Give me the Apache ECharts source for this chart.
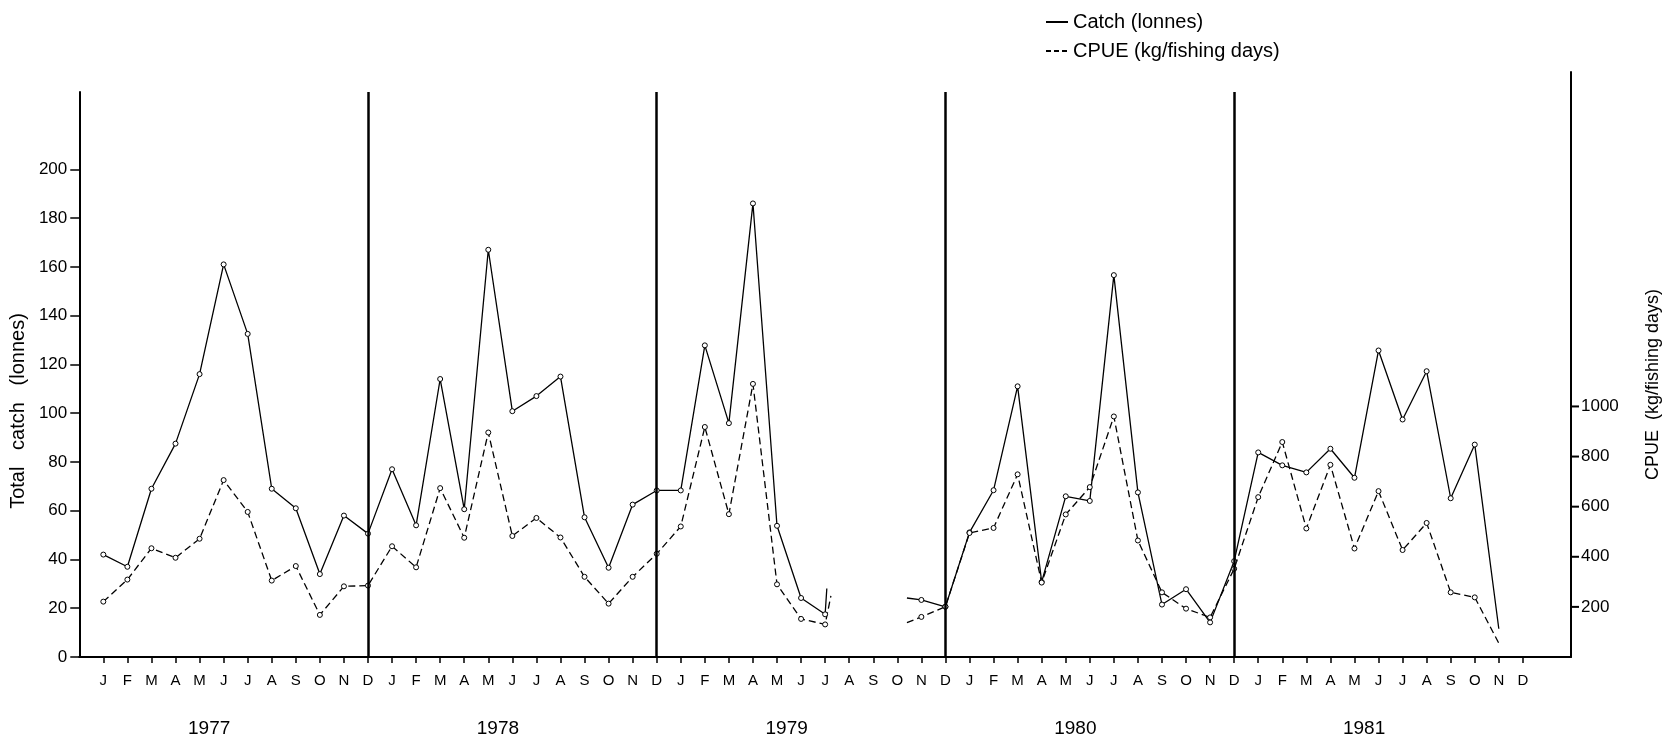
<!DOCTYPE html>
<html>
<head>
  <meta charset="utf-8">
  <title>Catch and CPUE 1977-1981</title>
  <script src="https://cdn.jsdelivr.net/npm/echarts@6/dist/echarts.min.js"></script>
  <style>
    html, body { margin: 0; padding: 0; background: #fff; }
  </style>
</head>
<body>
<div id="main" style="width: 1670px;height:747px;"></div>
<script type="text/javascript">
  // month letters and years on the x axis
  var monthLetters = ['J', 'F', 'M', 'A', 'M', 'J', 'J', 'A', 'S', 'O', 'N', 'D'];
  var years = ['1977', '1978', '1979', '1980', '1981'];

  // total catch (tonnes), Jan..Dec of each year, null = no data
  var catch1977 = [42, 37, 69, 87.5, 116, 161, 132.5, 69, 61, 34, 58, 50.6];
  var catch1978 = [77, 54, 114, 60.6, 167, 100.8, 107, 115, 57.3, 36.6, 62.5, 68.3];
  var catch1979 = [68.3, 127.8, 95.9, 186, 53.8, 24.2, 17.5, null, null, null, 23.4, 20.6];
  var catch1980 = [51.1, 68.4, 111, 30.8, 65.9, 64, 156.6, 67.5, 21.5, 27.8, 14.2, 39.3];
  var catch1981 = [83.9, 78.6, 75.7, 85.4, 73.5, 125.7, 97.4, 117.2, 65.1, 87.1, 11.6, null];

  // CPUE (kg/fishing days)
  var cpue1977 = [221, 309, 434, 396, 472, 706, 579, 305, 363, 168, 282, 285];
  var cpue1978 = [442, 358, 674, 476, 896, 483, 555, 477, 320, 213, 320, 412];
  var cpue1979 = [521, 918, 570, 1090, 290, 152, 130, null, null, null, 160, 201];
  var cpue1980 = [495, 515, 729, 297, 569, 678, 960, 465, 258, 193, 158, 352];
  var cpue1981 = [638, 858, 513, 767, 433, 662, 427, 535, 258, 238, 55, null];

  // short broken line ends around the 1979 gap: [month index, value]
  var catchStubs = [[31.07, 28.1], [34.4, 24.2]];
  var cpueStubs = [[31.24, 244], [34.4, 137]];

  // last drawn point of each line has no circle
  var lastIndex = 59;

  var leftTicks = [0, 20, 40, 60, 80, 100, 120, 140, 160, 180, 200];
  var rightTicks = [200, 400, 600, 800, 1000];

  function buildSeries(yearArrays, stubs) {
    var pts = [];
    yearArrays.forEach(function (arr, y) {
      arr.forEach(function (v, m) {
        var idx = y * 12 + m + 1;
        if (v === null) {
          pts.push([idx, null]);
        } else if (idx === lastIndex) {
          pts.push({ value: [idx, v], symbol: 'none' });
        } else {
          pts.push([idx, v]);
        }
      });
    });
    stubs.forEach(function (s) {
      pts.push({ value: s, symbol: 'none' });
    });
    pts.sort(function (a, b) {
      var xa = Array.isArray(a) ? a[0] : a.value[0];
      var xb = Array.isArray(b) ? b[0] : b.value[0];
      return xa - xb;
    });
    return pts;
  }

  var catchData = buildSeries([catch1977, catch1978, catch1979, catch1980, catch1981], catchStubs);
  var cpueData = buildSeries([cpue1977, cpue1978, cpue1979, cpue1980, cpue1981], cpueStubs);

  var monthTickValues = [];
  for (var i = 1; i <= 60; i++) monthTickValues.push(i);
  var yearPositions = years.map(function (y, k) { return 12 * k + 5.4; });
  var separators = [12, 24, 36, 48];

  // layout of the plot, and the right (CPUE) scale
  var chartW = 1670, chartH = 747;
  var gridLeft = 79, gridRight = 99, gridTop = 92, gridBottom = 90;
  var plotH = chartH - gridTop - gridBottom;
  var catchMax = 231.7, cpueMax = 2255;
  var cpuePx = plotH / cpueMax;
  var xMax = 62;
  var rightTickLen = 8;

  var font = 'Liberation Sans';

  var chartDom = document.getElementById('main');
  var myChart = echarts.init(chartDom);
  var option;

  option = {
    backgroundColor: '#fff',
    animation: false,
    textStyle: { fontFamily: font, color: '#000' },
    legend: {
      orient: 'vertical',
      left: 1040,
      top: 7,
      itemGap: 9,
      itemWidth: 22,
      itemHeight: 10,
      itemStyle: { opacity: 0 },
      textStyle: { fontFamily: font, fontSize: 20, color: '#000' },
      data: [
        { name: 'Catch (lonnes)' },
        { name: 'CPUE (kg/fishing days)', lineStyle: { type: [5, 3] } }
      ]
    },
    grid: [
      { left: gridLeft, right: gridRight, top: gridTop, bottom: gridBottom },
      // narrow strip right of the plot carrying the CPUE labels 200..1000
      {
        left: chartW - gridRight,
        width: rightTickLen,
        bottom: gridBottom + 200 * cpuePx,
        height: 800 * cpuePx
      },
      // the right axis line runs higher than the left one
      { left: gridLeft, right: gridRight, top: 72, bottom: gridBottom }
    ],
    xAxis: [
      {
        type: 'value',
        gridIndex: 0,
        min: 0,
        max: xMax,
        axisLine: { show: true, onZero: false, lineStyle: { color: '#000', width: 2 } },
        axisTick: { show: true, customValues: monthTickValues, length: 6, lineStyle: { color: '#000', width: 1.5 } },
        axisLabel: {
          customValues: monthTickValues,
          margin: 16,
          fontSize: 15,
          color: '#000',
          formatter: function (v) { return monthLetters[(Math.round(v) - 1) % 12]; }
        },
        splitLine: { show: false }
      },
      {
        type: 'value',
        gridIndex: 0,
        min: 0,
        max: xMax,
        position: 'bottom',
        offset: 0,
        axisLine: { show: false, onZero: false },
        axisTick: { show: false },
        axisLabel: {
          customValues: yearPositions,
          margin: 62,
          fontSize: 19,
          color: '#000',
          formatter: function (v) { return years[Math.round((v - 5.4) / 12)]; }
        },
        splitLine: { show: false }
      },
      { type: 'value', gridIndex: 1, min: 0, max: 1, show: false },
      { type: 'value', gridIndex: 2, min: 0, max: xMax, show: false }
    ],
    yAxis: [
      {
        type: 'value',
        gridIndex: 0,
        min: 0,
        max: catchMax,
        position: 'left',
        name: 'Total   catch   (lonnes)',
        nameLocation: 'middle',
        nameGap: 50,
        nameTextStyle: { fontSize: 20, color: '#000', padding: [0, 73, 0, 0] },
        axisLine: { show: true, onZero: false, lineStyle: { color: '#000', width: 2 } },
        axisTick: { show: true, customValues: leftTicks, length: 9, lineStyle: { color: '#000', width: 1.5 } },
        axisLabel: { customValues: leftTicks, margin: 12, fontSize: 17, color: '#000' },
        splitLine: { show: false }
      },
      {
        type: 'value',
        gridIndex: 0,
        min: 0,
        max: cpueMax,
        position: 'right',
        name: 'CPUE  (kg/fishing days)',
        nameLocation: 'middle',
        nameGap: 73,
        nameTextStyle: { fontSize: 18, color: '#000', padding: [0, 20, 0, 0] },
        axisLine: { show: false, onZero: false },
        axisTick: { show: false },
        axisLabel: { show: false },
        splitLine: { show: false }
      },
      {
        type: 'value',
        gridIndex: 1,
        min: 200,
        max: 1000,
        interval: 200,
        position: 'right',
        axisLine: { show: false, onZero: false },
        axisTick: { show: false },
        axisLabel: {
          margin: 2,
          fontSize: 17,
          color: '#000',
          showMinLabel: true,
          showMaxLabel: true,
          formatter: function (v) { return String(v); }
        },
        splitLine: { show: false }
      },
      {
        type: 'value',
        gridIndex: 2,
        min: 0,
        max: 1,
        position: 'right',
        axisLine: { show: true, onZero: false, lineStyle: { color: '#000', width: 2 } },
        axisTick: { show: false },
        axisLabel: { show: false },
        splitLine: { show: false }
      }
    ],
    series: [
      {
        name: 'Catch (lonnes)',
        type: 'line',
        xAxisIndex: 0,
        yAxisIndex: 0,
        data: catchData,
        connectNulls: false,
        symbol: 'circle',
        symbolSize: 5,
        itemStyle: { color: '#fff', borderColor: '#000', borderWidth: 1 },
        lineStyle: { color: '#000', width: 1.3, type: 'solid' },
        markLine: {
          silent: true,
          symbol: 'none',
          label: { show: false },
          lineStyle: { color: '#000', width: 2.5, type: 'solid' },
          data: separators.map(function (s) { return { xAxis: s }; })
        }
      },
      {
        name: 'CPUE (kg/fishing days)',
        type: 'line',
        xAxisIndex: 0,
        yAxisIndex: 1,
        data: cpueData,
        connectNulls: false,
        symbol: 'circle',
        symbolSize: 5,
        itemStyle: { color: '#fff', borderColor: '#000', borderWidth: 1 },
        lineStyle: { color: '#000', width: 1.3, type: [7, 4] }
      }
    ]
  };

  option && myChart.setOption(option);

  // right-hand CPUE ticks, placed through the chart's own scales
  var xRight = myChart.convertToPixel({ xAxisIndex: 0 }, xMax);
  var tickLines = rightTicks.map(function (v) {
    var y = myChart.convertToPixel({ yAxisIndex: 1 }, v);
    return {
      type: 'line',
      silent: true,
      z: 10,
      shape: { x1: xRight, y1: y, x2: xRight + rightTickLen, y2: y },
      style: { stroke: '#000', lineWidth: 2 }
    };
  });
  myChart.setOption({ graphic: tickLines });
</script>
</body>
</html>
